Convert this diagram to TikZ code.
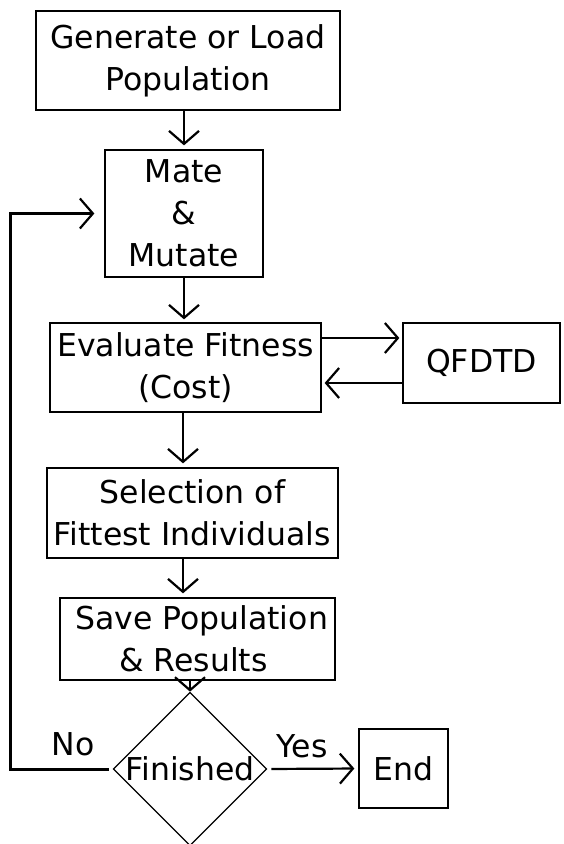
\documentclass[tikz,border=0pt]{standalone}
\usepackage{fontspec}
\setmainfont{DejaVu Sans}
\usetikzlibrary{shapes.geometric,arrows.meta}
\begin{document}
\begin{tikzpicture}[x=1pt,y=-1pt,
  box/.style={draw, line width=1.3pt, inner sep=0pt, align=center, font=\fontsize{31.5}{42}\selectfont},
  lbl/.style={inner sep=0pt, font=\fontsize{31.5}{42}\selectfont},
  arr/.style={line width=2.2pt, -{Straight Barb[length=13pt,width=30pt,line width=2.2pt]}},
  loopline/.style={line width=3pt, -{Straight Barb[length=13pt,width=30pt,line width=2.2pt]}},
]
\useasboundingbox[fill=white] (0,0) rectangle (563,844);
\node[box, minimum width=304pt, minimum height=99pt] (b1) at (188,60.5) {Generate or Load\\Population};
\node[box, minimum width=158pt, minimum height=127pt] (b2) at (184,213.5) {Mate\\\&\\Mutate};
\node[box, minimum width=271pt, minimum height=89pt] (b3) at (185.5,367.5) {Evaluate Fitness\\(Cost)};
\node[box, minimum width=157pt, minimum height=80pt] (q) at (481.5,363) {QFDTD};
\node[box, minimum width=291pt, minimum height=90pt] (b4) at (192.5,513) {Selection of\\Fittest Individuals};
\node[box, minimum width=275pt, minimum height=82pt] (b5) at (197.5,639) {\hspace*{8pt}Save Population\\\& Results\hspace*{8pt}};
\node[box, shape=diamond, minimum width=152pt, minimum height=150pt] (d) at (190,769) {Finished};
\node[box, minimum width=89pt, minimum height=79pt] (e) at (403.5,768.5) {End};
\node[lbl] (no) at (73,744) {No};
\node[lbl] (yes) at (302,746) {Yes};
\coordinate (ax) at (183,0);
\coordinate (lc) at (10,769);
\draw[arr, shorten >=4pt] (b1.south -| b2.north) -- (b2.north);
\draw[arr, shorten >=3pt] (b2.south) -- (b2.south |- b3.north);
\draw[arr, shorten >=4pt] (b3.south -| ax) -- (b4.north -| ax);
\draw[arr, shorten >=4pt] (b4.south -| ax) -- (b5.north -| ax);
\draw[arr] (b5.south -| d.north) -- (d.north);
\draw[arr, shorten >=3pt] ([yshift=29.5pt]b3.east) -- ([yshift=29.5pt]b3.east -| q.west);
\draw[arr, shorten >=3pt] ([yshift=-20pt]q.west) -- ([yshift=-20pt]q.west -| b3.east);
\draw[arr, shorten <=4pt, shorten >=4pt] (d.east) -- (e.west);
\draw[loopline, shorten <=4pt, shorten >=10pt] (d.west) -- (lc) |- (b2.west);
\end{tikzpicture}
\end{document}
